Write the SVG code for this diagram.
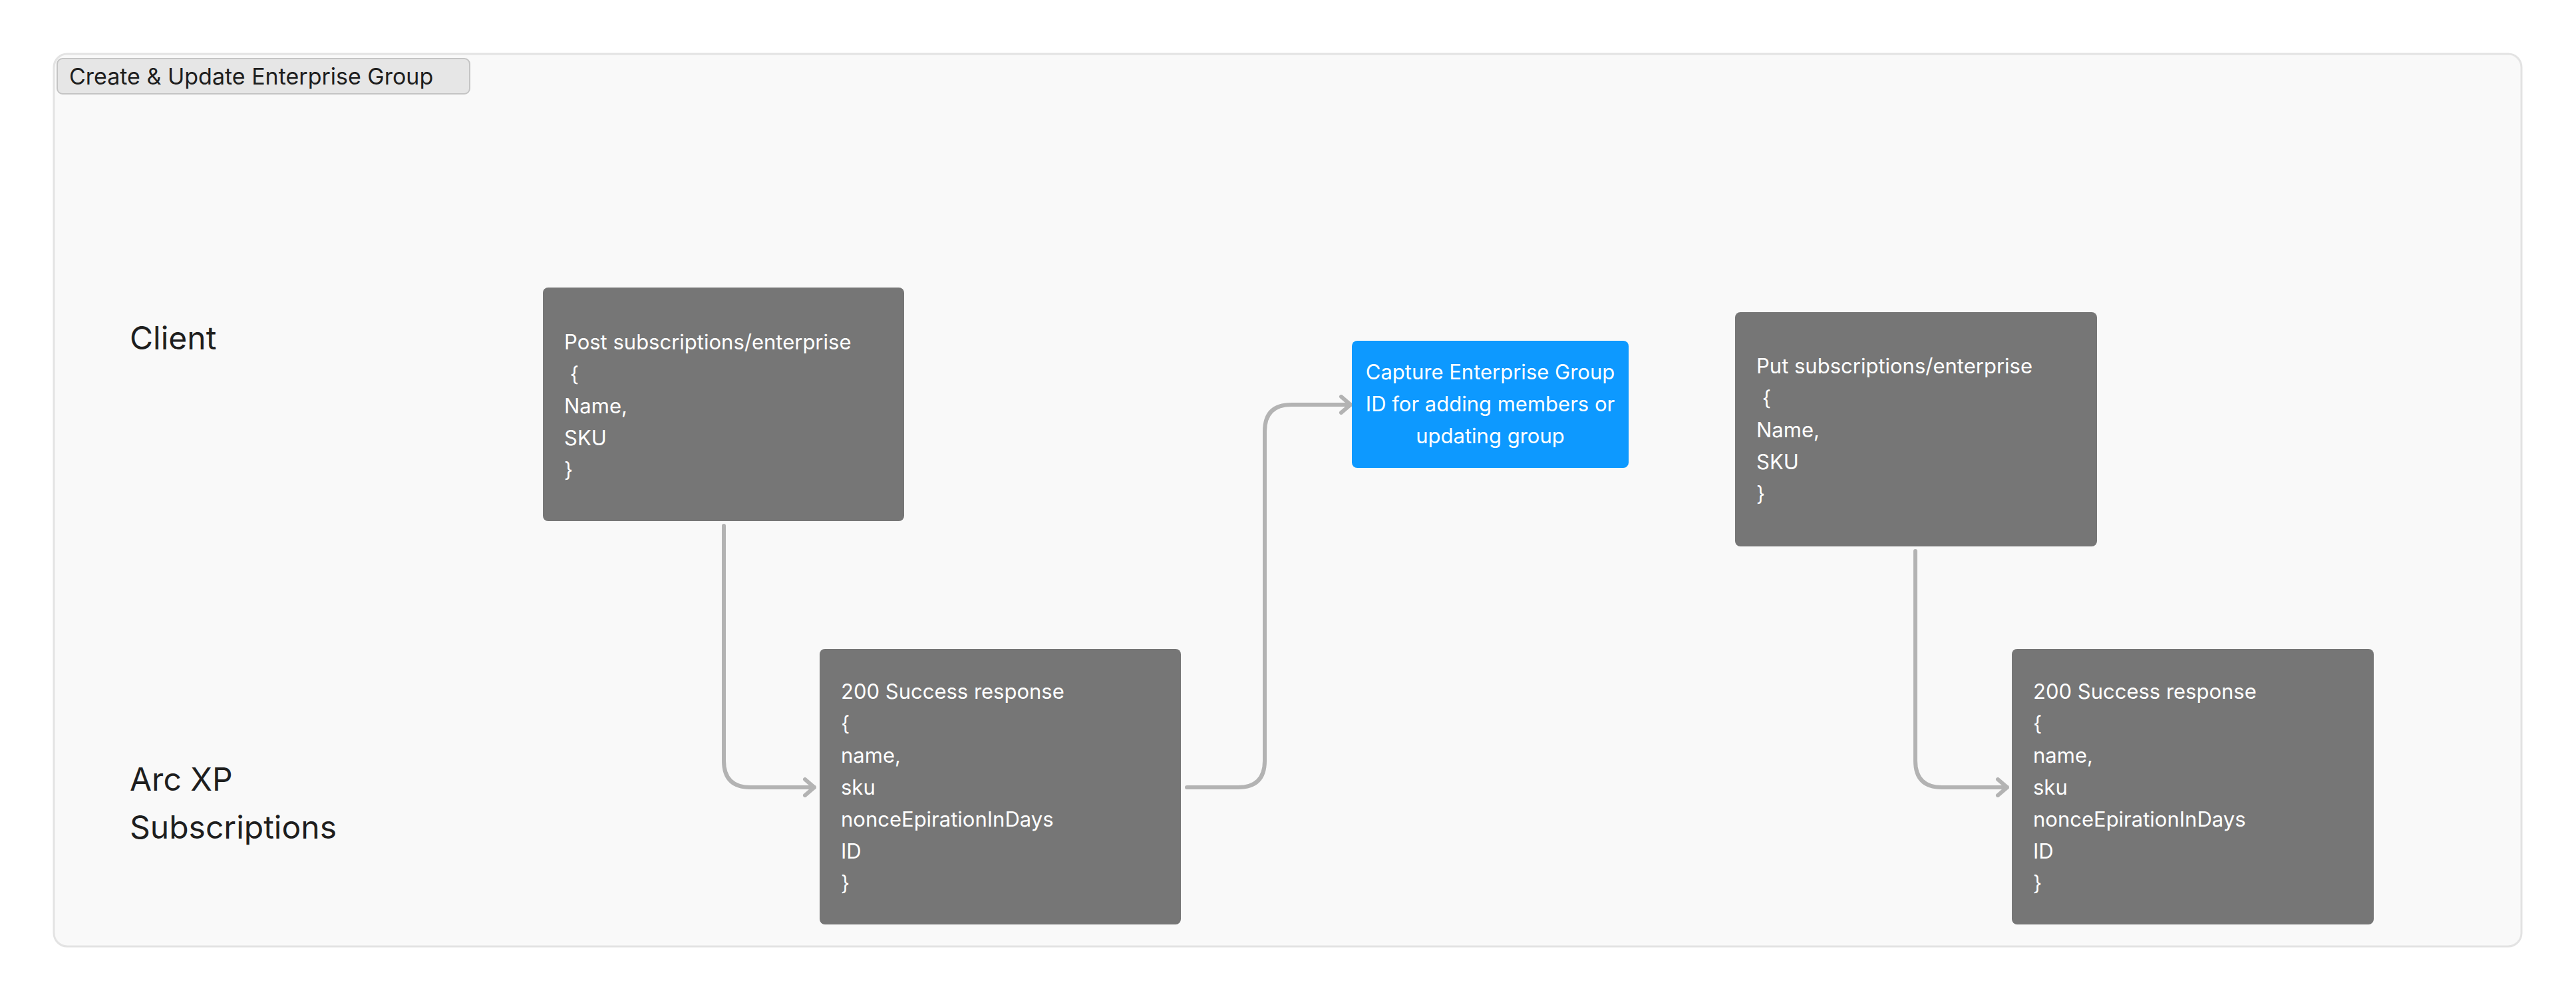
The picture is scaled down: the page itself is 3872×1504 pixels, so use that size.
<svg xmlns="http://www.w3.org/2000/svg" width="3872" height="1504" viewBox="0 0 3872 1504">
<style>
text{font-family:Inter,"Liberation Sans",sans-serif}
.box{fill:#767676}
.t{fill:#fff;font-size:31px}
.lane{fill:#1e1e1e;font-size:48px}
.c{fill:none;stroke:#b3b3b3;stroke-width:6;stroke-linecap:round;stroke-linejoin:round}
</style>
<defs>
<marker id="ah" viewBox="0 0 20 30" refX="18" refY="15" markerWidth="20" markerHeight="30" markerUnits="userSpaceOnUse" orient="auto">
<path d="M4,3 L18,15 L4,27" fill="none" stroke="#b3b3b3" stroke-width="6" stroke-linecap="round" stroke-linejoin="round"/>
</marker>
</defs>
<rect width="3872" height="1504" fill="#fff"/>
<g id="frame">
<rect x="81" y="81" width="3709" height="1341" rx="20" fill="#f9f9f9" stroke="#e3e3e3" stroke-width="3"/>
<rect x="86" y="88" width="620" height="53" rx="8" fill="#e6e6e6" stroke="#c4c4c4" stroke-width="2"/>
<text x="104" y="127" font-size="34" fill="#1e1e1e">Create &amp; Update Enterprise Group</text>
</g>
<g id="lane-client"><text class="lane" x="195" y="525">Client</text></g>
<g id="lane-arc"><text class="lane" x="195" y="1188">Arc XP</text><text class="lane" x="195" y="1260">Subscriptions</text></g>
<g id="connectors">
<path class="c" d="M1088,790 V1143 Q1088,1183 1128,1183 H1224" marker-end="url(#ah)"/>
<path class="c" d="M1784,1183 H1861 Q1901,1183 1901,1143 V648 Q1901,608 1941,608 H2030" marker-end="url(#ah)"/>
<path class="c" d="M2879,828 V1143 Q2879,1183 2919,1183 H3017" marker-end="url(#ah)"/>
</g>
<g id="post">
<rect class="box" x="816" y="432" width="543" height="351" rx="8"/>
<text class="t"><tspan x="848" y="525">Post subscriptions/enterprise</tspan><tspan x="848" y="573"> {</tspan><tspan x="848" y="621">Name,</tspan><tspan x="848" y="669">SKU</tspan><tspan x="848" y="717">}</tspan></text>
</g>
<g id="resp1">
<rect class="box" x="1232" y="975" width="543" height="414" rx="8"/>
<text class="t"><tspan x="1264" y="1050">200 Success response</tspan><tspan x="1264" y="1098">{</tspan><tspan x="1264" y="1146">name,</tspan><tspan x="1264" y="1194">sku</tspan><tspan x="1264" y="1242">nonceEpirationInDays</tspan><tspan x="1264" y="1290">ID</tspan><tspan x="1264" y="1338">}</tspan></text>
</g>
<g id="capture">
<rect x="2032" y="512" width="416" height="191" rx="8" fill="#0d99ff"/>
<text class="t" text-anchor="middle"><tspan x="2240" y="570">Capture Enterprise Group</tspan><tspan x="2240" y="618">ID for adding members or</tspan><tspan x="2240" y="666">updating group</tspan></text>
</g>
<g id="put">
<rect class="box" x="2608" y="469" width="544" height="352" rx="8"/>
<text class="t"><tspan x="2640" y="561">Put subscriptions/enterprise</tspan><tspan x="2640" y="609"> {</tspan><tspan x="2640" y="657">Name,</tspan><tspan x="2640" y="705">SKU</tspan><tspan x="2640" y="753">}</tspan></text>
</g>
<g id="resp2">
<rect class="box" x="3024" y="975" width="544" height="414" rx="8"/>
<text class="t"><tspan x="3056" y="1050">200 Success response</tspan><tspan x="3056" y="1098">{</tspan><tspan x="3056" y="1146">name,</tspan><tspan x="3056" y="1194">sku</tspan><tspan x="3056" y="1242">nonceEpirationInDays</tspan><tspan x="3056" y="1290">ID</tspan><tspan x="3056" y="1338">}</tspan></text>
</g>
</svg>
